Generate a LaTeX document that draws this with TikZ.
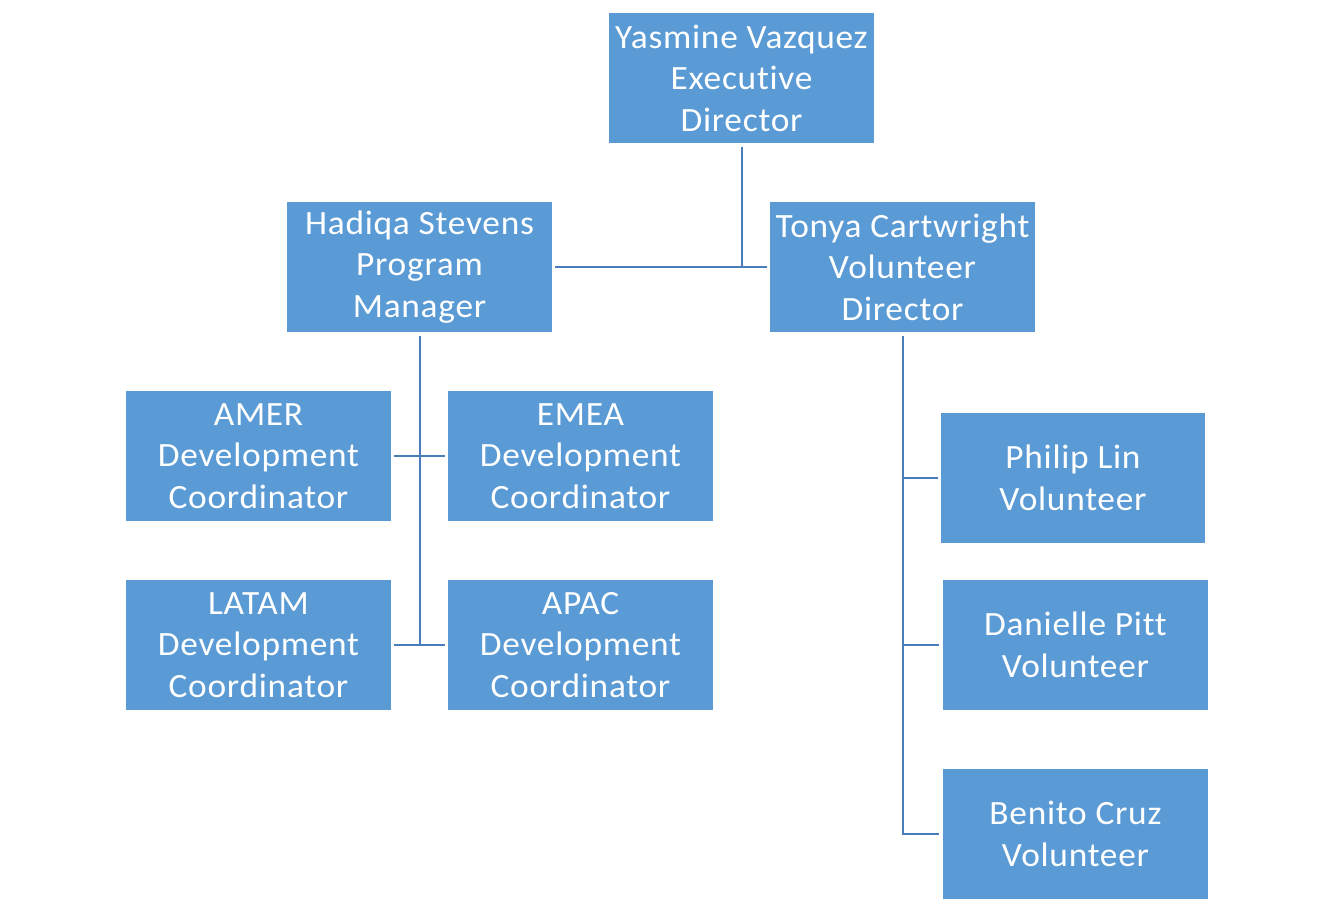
\documentclass[tikz,border=0pt]{standalone}
\usepackage{fontspec}
\setmainfont{Carlito}[FakeStretch=1.04,LetterSpace=2.2,Ligatures=CommonOff]
\definecolor{boxblue}{HTML}{5B9BD5}
\definecolor{linkblue}{HTML}{4A7EBB}
\begin{document}
\begin{tikzpicture}[x=1pt,y=-1pt,
  orgbox/.style={fill=boxblue,draw=none,minimum width=265pt,minimum height=130pt,inner sep=0pt,
    align=center,text=white,font=\fontsize{34}{41.5}\selectfont},
  link/.style={draw=linkblue,line width=2pt}]
\useasboundingbox (0,0) rectangle (1334,902);
\node[orgbox] (ed) at (741.5,78) {Yasmine Vazquez\\Executive\\Director};
\node[orgbox] (pm) at (419.5,267) {Hadiqa Stevens\\Program\\Manager};
\node[orgbox] (vd) at (902.5,267) {Tonya Cartwright\\Volunteer\\Director};
\node[orgbox] (amer) at (258.5,456) {AMER\\Development\\Coordinator};
\node[orgbox] (emea) at (580.5,456) {EMEA\\Development\\Coordinator};
\node[orgbox] (latam) at (258.5,645) {LATAM\\Development\\Coordinator};
\node[orgbox] (apac) at (580.5,645) {APAC\\Development\\Coordinator};
\node[orgbox,minimum width=264pt] (philip) at (1073,478) {Philip Lin\\Volunteer};
\node[orgbox] (danielle) at (1075.5,645) {Danielle Pitt\\Volunteer};
\node[orgbox] (benito) at (1075.5,834) {Benito Cruz\\Volunteer};
\draw[link] ([yshift=-4pt]ed.south) -- (ed.south |- vd.west);
\draw[link] ([xshift=3pt]pm.east |- vd.west) -- ([xshift=-3pt]vd.west);
\draw[link] ([yshift=-4pt]pm.south) -- (pm.south |- apac.west);
\draw[link] ([xshift=3pt]amer.east) -- ([xshift=-3pt]emea.west);
\draw[link] ([xshift=3pt]latam.east) -- ([xshift=-3pt]apac.west);
\draw[link] ([yshift=-4pt]vd.south) -- (vd.south |- benito.west) -- ([xshift=-4pt]benito.west);
\draw[link] (vd.south |- philip.west) -- ([xshift=-3pt]philip.west);
\draw[link] (vd.south |- danielle.west) -- ([xshift=-4pt]danielle.west);
\end{tikzpicture}
\end{document}
